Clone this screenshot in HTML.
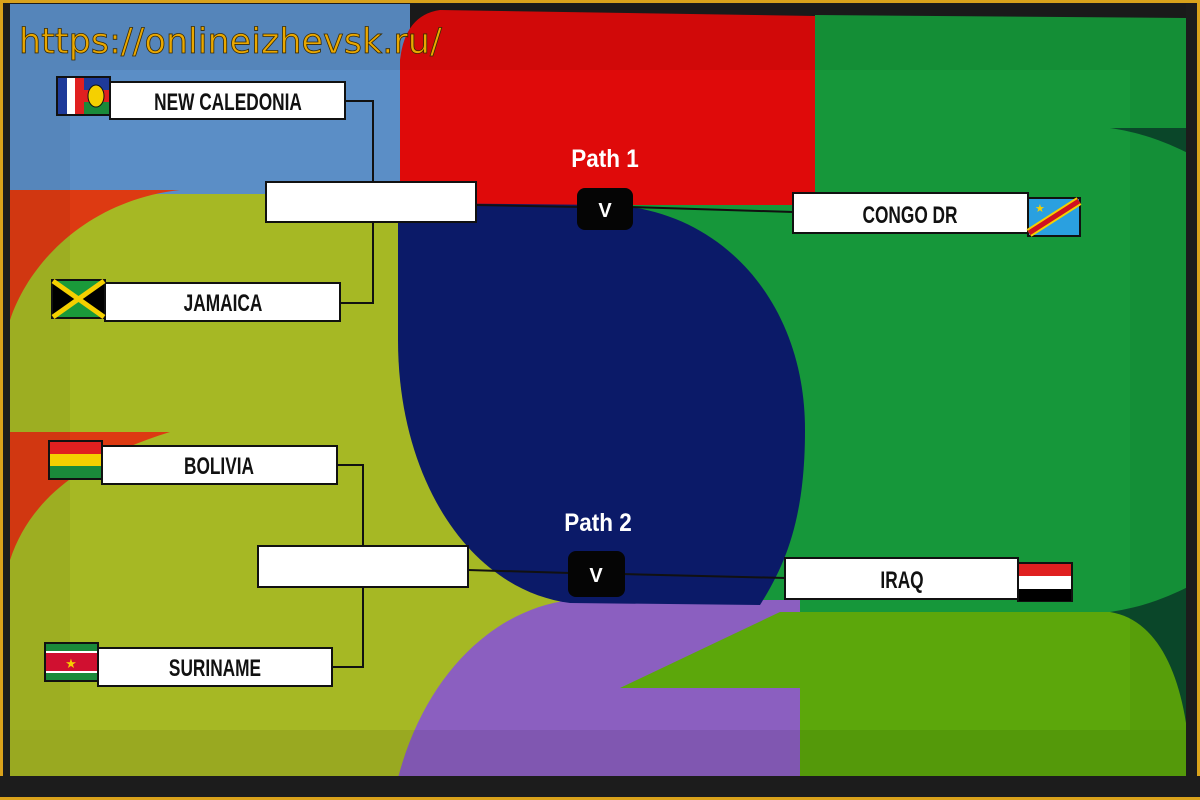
<!DOCTYPE html>
<html><head><meta charset="utf-8"><style>
html,body{margin:0;padding:0;width:1200px;height:800px;overflow:hidden;background:#1a1a1a}
svg{display:block}
</style></head><body>
<svg width="1200" height="800" viewBox="0 0 1200 800" xmlns="http://www.w3.org/2000/svg">
<defs><clipPath id="c"><rect x="10" y="4" width="1176" height="772"/></clipPath></defs>
<rect x="0" y="0" width="1200" height="800" fill="#d9a21b"/>
<rect x="3" y="3" width="1194" height="794" fill="#1c1c1c"/>
<g clip-path="url(#c)">
<rect x="10" y="190" width="820" height="590" fill="#a6b824"/>
<rect x="10" y="4" width="400" height="190" fill="#5b8ec6"/>
<path d="M10,190 L180,190 C90,200 30,260 10,320 Z" fill="#dd3a12"/>
<path d="M10,432 L170,432 C80,460 30,500 10,560 Z" fill="#dd3a12"/>
<rect x="800" y="128" width="390" height="650" fill="#0b4a2c"/>
<path d="M815,15 L1190,18 L1190,128 L1040,128 A240,240 0 0 1 1110,612 L620,612 L620,195 L815,195 Z" fill="#16973a"/>
<path d="M620,612 L1110,612 C1160,620 1185,680 1190,760 L1190,780 L620,780 Z" fill="#5ca70b"/>
<path d="M440,10 L815,16 L815,205 L400,205 L400,60 Q405,15 440,10 Z" fill="#df0a0a"/>
<path d="M570,600 L800,600 L800,690 L620,688 L800,688 L800,790 L395,790 C420,680 490,610 570,600 Z" fill="#8b5fc0"/>
<path d="M620,688 L780,612 L800,612 L800,688 Z" fill="#5ca70b"/>
<path d="M398,203 L610,205 C720,210 805,300 805,430 C805,520 785,565 760,605 L570,603 C470,590 398,480 398,340 Z" fill="#0b1a68"/>
<rect x="10" y="4" width="1176" height="66" fill="#000" opacity="0.06"/>
<rect x="10" y="730" width="1176" height="50" fill="#000" opacity="0.08"/>
<rect x="1130" y="70" width="60" height="660" fill="#000" opacity="0.05"/>
<rect x="10" y="70" width="60" height="660" fill="#000" opacity="0.05"/>
</g>
<rect x="0" y="776" width="1200" height="24" fill="#1c1c1c"/>
<rect x="0" y="797" width="1200" height="3" fill="#d9a21b"/>

<g stroke="#111" stroke-width="2" fill="none">
<path d="M345,101 L373,101 L373,303 L340,303"/>
<path d="M337,465 L363,465 L363,667 L332,667"/>
<path d="M476,205 L580,207"/>
<path d="M630,207 L793,212"/>
<path d="M468,570 L570,573"/>
<path d="M622,574 L785,578"/>
</g>

<g stroke="#111" stroke-width="2" fill="#fff">
<rect x="110" y="82" width="235" height="37"/>
<rect x="105" y="283" width="235" height="38"/>
<rect x="266" y="182" width="210" height="40"/>
<rect x="102" y="446" width="235" height="38"/>
<rect x="98" y="648" width="234" height="38"/>
<rect x="258" y="546" width="210" height="41"/>
<rect x="793" y="193" width="235" height="40"/>
<rect x="785" y="558" width="233" height="41"/>
</g>
<g stroke="#111" stroke-width="2">
<g><rect x="57" y="77" width="53" height="38" fill="#fff"/><rect x="58" y="78" width="9" height="36" fill="#1e3a9a" stroke="none"/><rect x="75" y="78" width="9" height="36" fill="#e02020" stroke="none"/><rect x="84" y="78" width="25" height="12" fill="#1e3a9a" stroke="none"/><rect x="84" y="90" width="25" height="12" fill="#e02020" stroke="none"/><rect x="84" y="102" width="25" height="12" fill="#1a8a3a" stroke="none"/><ellipse cx="96" cy="96" rx="8" ry="11" fill="#f5d000" stroke="#111" stroke-width="1"/></g>
<g><rect x="52" y="280" width="53" height="38" fill="#1a9a3a"/><path d="M53,281 L78,299 L53,317Z M104,281 L79,299 L104,317Z" fill="#000" stroke="none"/><path d="M53,281 L104,317 M104,281 L53,317" stroke="#f5d000" stroke-width="5"/></g>
<g><rect x="49" y="441" width="53" height="38" fill="#f5d000"/><rect x="50" y="442" width="51" height="12" fill="#e02020" stroke="none"/><rect x="50" y="466" width="51" height="12" fill="#1a8a3a" stroke="none"/></g>
<g><rect x="45" y="643" width="53" height="38" fill="#fff"/><rect x="46" y="644" width="51" height="7" fill="#1a8a3a" stroke="none"/><rect x="46" y="673" width="51" height="7" fill="#1a8a3a" stroke="none"/><rect x="46" y="653" width="51" height="18" fill="#d01030" stroke="none"/><text x="71" y="668" font-size="13" fill="#f5d000" stroke="none" text-anchor="middle">★</text></g>
<g><rect x="1028" y="198" width="52" height="38" fill="#2aa0e0"/><path d="M1029,233 L1079,201" stroke="#f5d000" stroke-width="9"/><path d="M1029,233 L1079,201" stroke="#d01020" stroke-width="5"/><text x="1035" y="212" font-size="11" fill="#f5d000" stroke="none">★</text></g>
<g><rect x="1018" y="563" width="54" height="38" fill="#fff"/><rect x="1019" y="564" width="52" height="12" fill="#e02020" stroke="none"/><rect x="1019" y="589" width="52" height="12" fill="#000" stroke="none"/></g>
</g>

<g font-family="Liberation Sans, sans-serif" font-weight="bold" font-size="24" fill="#111" text-anchor="middle">
<text transform="translate(228,110) scale(0.72,1)">NEW CALEDONIA</text>
<text transform="translate(223,311) scale(0.72,1)">JAMAICA</text>
<text transform="translate(219,474) scale(0.72,1)">BOLIVIA</text>
<text transform="translate(215,676) scale(0.72,1)">SURINAME</text>
<text transform="translate(910,223) scale(0.72,1)">CONGO DR</text>
<text transform="translate(902,588) scale(0.72,1)">IRAQ</text>
</g>

<rect x="577" y="188" width="56" height="42" rx="8" fill="#050505"/>
<rect x="568" y="551" width="57" height="46" rx="8" fill="#050505"/>
<g font-family="Liberation Sans, sans-serif" font-weight="bold" fill="#fff" text-anchor="middle">
<text x="605" y="217" font-size="20">V</text>
<text x="596" y="582" font-size="20">V</text>
<text transform="translate(605,167) scale(0.9,1)" font-size="25">Path 1</text>
<text transform="translate(598,531) scale(0.9,1)" font-size="25">Path 2</text>
</g>

<text x="19" y="53" font-family="DejaVu Sans, sans-serif" font-size="35" fill="#eaa800" stroke="#3a2a00" stroke-width="0.8">https://onlineizhevsk.ru/</text>
</svg>
</body></html>
